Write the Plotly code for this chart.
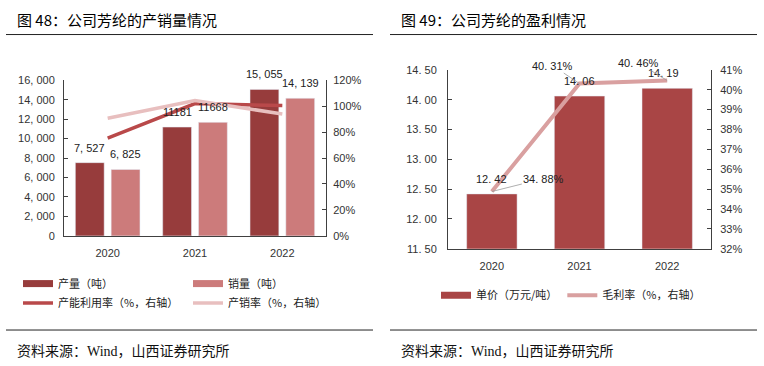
import plotly.graph_objects as go

W, H = 764, 366

# ---------------- data ----------------
years = ["2020", "2021", "2022"]
production = [7527, 11181, 15055]          # 产量（吨）
sales = [6825, 11668, 14139]               # 销量（吨）
prod_labels = ["7, 527", "11181", "15, 055"]
sales_labels = ["6, 825", "11668", "14, 139"]
capacity_util = [75.3, 102.0, 100.4]       # 产能利用率 %
sales_ratio = [90.7, 104.4, 93.9]          # 产销率 %

price = [12.42, 14.06, 14.19]              # 单价（万元/吨）
margin = [34.88, 40.31, 40.46]             # 毛利率 %

left_ticks = [0, 2000, 4000, 6000, 8000, 10000, 12000, 14000, 16000]
left_pct_ticks = [0, 20, 40, 60, 80, 100, 120]
price_ticks = [11.5, 12.0, 12.5, 13.0, 13.5, 14.0, 14.5]
margin_ticks = [32, 33, 34, 35, 36, 37, 38, 39, 40, 41]

# ---------------- style ----------------
C_PROD = "#973c3c"
C_SALES = "#cc7b7b"
C_UTIL = "#b9494a"
C_RATIO = "#e8bfbf"
C_PRICE = "#a94545"
C_MARGIN = "#d9a0a0"
AX = "#404040"
NUM_FONT = "Liberation Sans, Arial, Noto Sans CJK SC"
CJK_FONT = "Noto Sans CJK SC, Liberation Sans"


def fmt_thousands(v):
    return f"{v:,}".replace(",", ", ")


def fmt_dec(v):
    return f"{v:.2f}".replace(".", ". ")


def px_x(p):
    return p / W


def px_y(p):
    return 1 - p / H


fig = go.Figure()

# left chart bars
fig.add_trace(go.Bar(x=years, y=production, name="产量（吨）", marker_color=C_PROD,
                     offset=-0.37, width=0.33, xaxis="x", yaxis="y", showlegend=False))
fig.add_trace(go.Bar(x=years, y=sales, name="销量（吨）", marker_color=C_SALES,
                     offset=0.04, width=0.33, xaxis="x", yaxis="y", showlegend=False))
# left chart lines
fig.add_trace(go.Scatter(x=years, y=capacity_util, name="产能利用率（%，右轴）", mode="lines",
                         line=dict(color=C_UTIL, width=3.5), xaxis="x", yaxis="y2",
                         legend="legend2"))
fig.add_trace(go.Scatter(x=years, y=sales_ratio, name="产销率（%，右轴）", mode="lines",
                         line=dict(color=C_RATIO, width=3.5), xaxis="x", yaxis="y2",
                         legend="legend2"))
# legend swatches for bars (wide flat rectangles)
fig.add_trace(go.Scatter(x=[None], y=[None], name="产量（吨）", mode="lines",
                         line=dict(color=C_PROD, width=7), xaxis="x", yaxis="y",
                         legend="legend"))
fig.add_trace(go.Scatter(x=[None], y=[None], name="销量（吨）", mode="lines",
                         line=dict(color=C_SALES, width=7), xaxis="x", yaxis="y",
                         legend="legend"))

# right chart
fig.add_trace(go.Bar(x=years, y=price, name="单价（万元/吨）", marker_color=C_PRICE,
                     offset=-0.287, width=0.575, xaxis="x2", yaxis="y3", showlegend=False))
fig.add_trace(go.Scatter(x=[None], y=[None], name="单价（万元/吨）", mode="lines",
                         line=dict(color=C_PRICE, width=7), xaxis="x2", yaxis="y3",
                         legend="legend3"))
fig.add_trace(go.Scatter(x=years, y=margin, name="毛利率（%，右轴）", mode="lines",
                         line=dict(color=C_MARGIN, width=4), xaxis="x2", yaxis="y4",
                         legend="legend3"))

annotations = []
# bar labels left (category index used as position)
for i in range(len(years)):
    annotations.append(dict(x=i, y=production[i], xref="x", yref="y", text=prod_labels[i],
                            showarrow=False, xshift=-18, yshift=15, yanchor="middle",
                            font=dict(family=NUM_FONT, size=11, color="#222")))
    annotations.append(dict(x=i, y=sales[i], xref="x", yref="y", text=sales_labels[i],
                            showarrow=False, xshift=18, yshift=15, yanchor="middle",
                            font=dict(family=NUM_FONT, size=11, color="#222")))
# price labels
for i in range(len(years)):
    annotations.append(dict(x=i, y=price[i], xref="x2", yref="y3", text=fmt_dec(price[i]),
                            showarrow=False, yshift=15, yanchor="middle",
                            xshift=-4 if i == 2 else 0,
                            font=dict(family=NUM_FONT, size=11, color="#222")))
# margin labels with leader lines
margin_offsets = [(52, -13), (-27, -18), (-29, -18)]
for i in range(len(years)):
    ax_, ay_ = margin_offsets[i]
    annotations.append(dict(x=i, y=margin[i], xref="x2", yref="y4",
                            text=f"{margin[i]:.2f}".replace(".", ". ") + "%",
                            showarrow=True, arrowhead=0, arrowwidth=0.8, arrowcolor="#9a9a9a",
                            ax=ax_, ay=ay_, standoff=0,
                            font=dict(family=NUM_FONT, size=11, color="#222")))

# titles and sources
for xp, title in [(15, "图 48：公司芳纶的产销量情况"), (399, "图 49：公司芳纶的盈利情况")]:
    annotations.append(dict(x=px_x(xp), y=px_y(14), xref="paper", yref="paper", text=title,
                            showarrow=False, xanchor="left", yanchor="middle",
                            font=dict(family=CJK_FONT, size=15, color="#000")))
    annotations.append(dict(x=px_x(xp), y=px_y(357), xref="paper", yref="paper",
                            text="资料来源：Wind，山西证券研究所",
                            showarrow=False, xanchor="left", yanchor="middle",
                            font=dict(family="Liberation Serif, Noto Sans CJK SC", size=14,
                                      color="#111")))

shapes = []
for x0, x1 in [(6, 373), (390, 757)]:
    for yy in (29.5, 335):
        shapes.append(dict(type="line", xref="paper", yref="paper",
                           x0=px_x(x0), x1=px_x(x1), y0=px_y(yy), y1=px_y(yy),
                           line=dict(color="#222", width=1)))

tickfont = dict(family=NUM_FONT, size=11, color="#333")
common_y = dict(showgrid=False, zeroline=False, showline=True, linecolor=AX, linewidth=1,
                ticks="inside", ticklen=4, tickcolor=AX, tickfont=tickfont, fixedrange=True)
common_x = dict(type="category", range=[-0.5, 2.5], showgrid=False, zeroline=False,
                showline=True, linecolor=AX, linewidth=1, ticks="", tickfont=tickfont,
                ticklabelstandoff=7)

legend_font = dict(family=CJK_FONT, size=11, color="#222")

fig.update_layout(
    width=W, height=H,
    margin=dict(l=0, r=0, t=0, b=0),
    paper_bgcolor="white", plot_bgcolor="white",
    barmode="overlay",
    xaxis=dict(domain=[px_x(64), px_x(326)], anchor="y", **common_x),
    yaxis=dict(domain=[px_y(237.7), px_y(76.7)], anchor="x", range=[0, 16000],
               tickvals=left_ticks, ticktext=[fmt_thousands(v) for v in left_ticks],
               ticklabelstandoff=6, **common_y),
    yaxis2=dict(overlaying="y", side="right", anchor="x", range=[0, 120],
                tickvals=left_pct_ticks, ticktext=[f"{v}%" for v in left_pct_ticks],
                ticklabelstandoff=4, **common_y),
    xaxis2=dict(domain=[px_x(448), px_x(711)], anchor="y3", **common_x),
    yaxis3=dict(domain=[px_y(251), px_y(66)], anchor="x2", range=[11.5, 14.5],
                tickvals=price_ticks, ticktext=[fmt_dec(v) for v in price_ticks],
                ticklabelstandoff=8, **common_y),
    yaxis4=dict(overlaying="y3", side="right", anchor="x2", range=[32, 41],
                tickvals=margin_ticks, ticktext=[f"{v}%" for v in margin_ticks],
                ticklabelstandoff=6, **common_y),
    legend=dict(orientation="h", x=px_x(18), y=px_y(287), xanchor="left", yanchor="middle",
                entrywidth=125, entrywidthmode="pixels", font=legend_font,
                bgcolor="rgba(0,0,0,0)", tracegroupgap=0, itemclick=False),
    legend2=dict(orientation="h", x=px_x(18), y=px_y(307), xanchor="left", yanchor="middle",
                 entrywidth=125, entrywidthmode="pixels", font=legend_font,
                 bgcolor="rgba(0,0,0,0)", itemclick=False),
    legend3=dict(orientation="h", x=px_x(436), y=px_y(299), xanchor="left", yanchor="middle",
                 font=legend_font, bgcolor="rgba(0,0,0,0)", itemclick=False),
    annotations=annotations,
    shapes=shapes,
)

fig.write_html("out.html", config={"displayModeBar": False},
               post_script="document.body.style.margin='0';")
